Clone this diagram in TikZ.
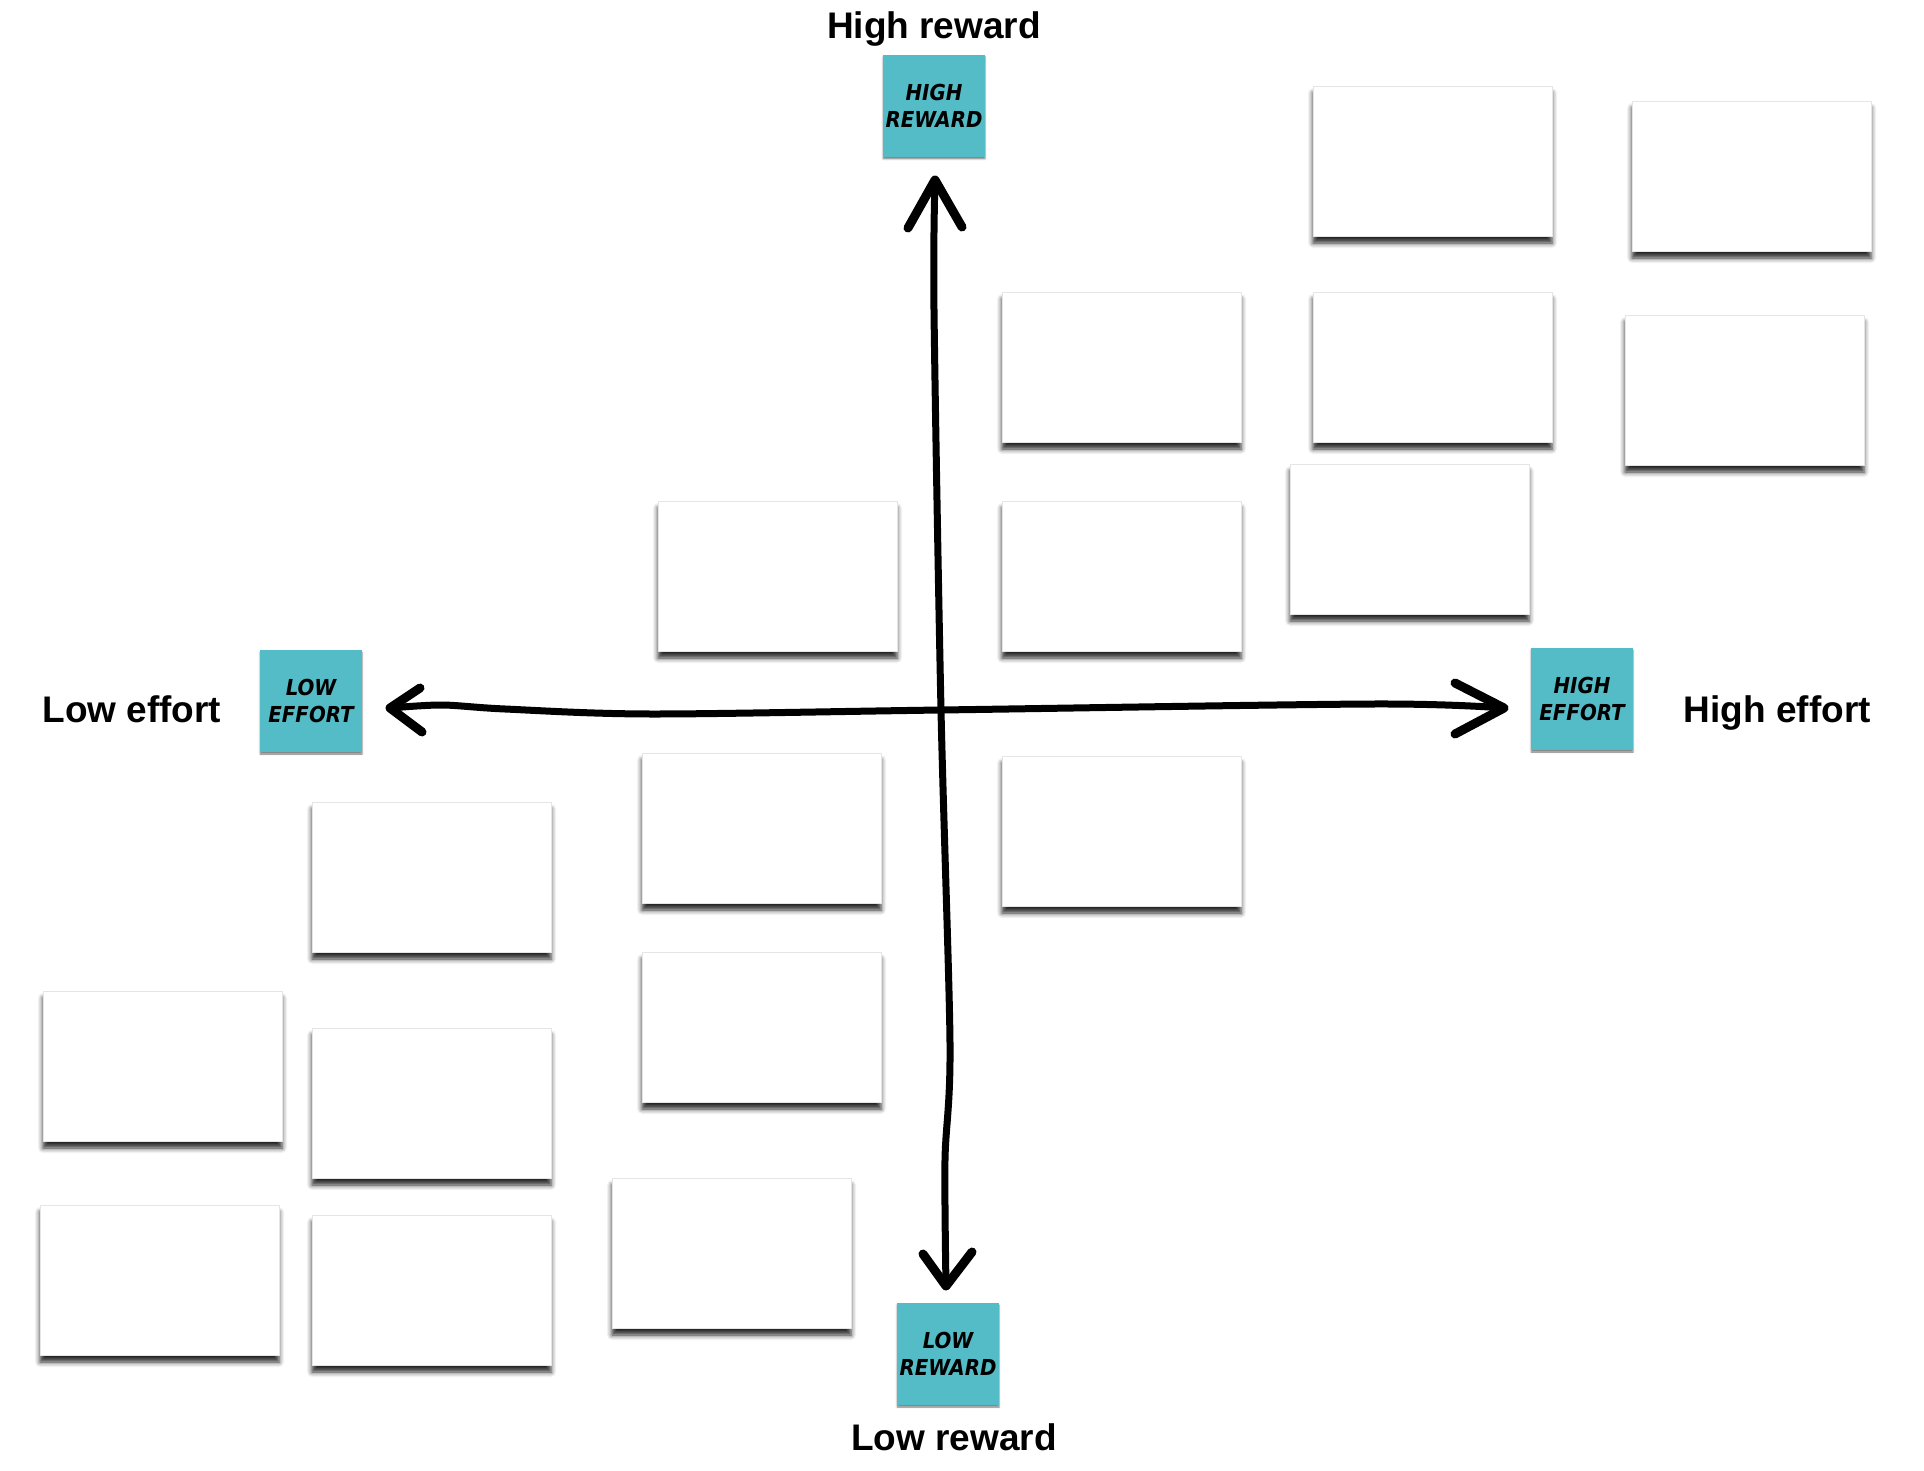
\documentclass[tikz,border=0pt]{standalone}
\usepackage{fontspec}
\setmainfont{Liberation Sans}
\newfontfamily\tagfont{DejaVu Sans Condensed}
\usetikzlibrary{positioning, shadows.blur}
\definecolor{tagcyan}{RGB}{84,188,199}

\begin{document}
\begin{tikzpicture}[x=0.5pt, y=-0.5pt,
    card/.style = {fill=white, draw=black!10, line width=0.4pt, minimum width=119.5pt, minimum height=75pt, inner sep=0pt,
        blur shadow={shadow xshift=0pt, shadow yshift=-3.5pt, shadow blur radius=2.5pt, shadow opacity=85}},
    tag/.style = {fill=tagcyan, minimum size=51pt, inner sep=0pt, align=center,
        font=\tagfont\bfseries\itshape\fontsize{11}{13.5}\selectfont,
        blur shadow={shadow xshift=0pt, shadow yshift=-1pt, shadow blur radius=0.8pt, shadow opacity=50}},
    lbl/.style = {inner sep=0pt, font=\bfseries\fontsize{18.5}{22}\selectfont},
    axis/.style = {line width=3.5pt, line cap=round, line join=round},
    barb/.style = {line width=4.5pt, line cap=round}]
            \useasboundingbox (0,0) rectangle (1924,1471);

            % blank sticky notes
            \node[card] (c1) at (1432.5,161) {};
            \node[card] (c2) at (1751.5,176) {};
            \node[card] (c3) at (1121.5,367) {};
            \node[card] (c4) at (1432.5,367) {};
            \node[card] (c5) at (1744.5,390) {};
            \node[card] (c6) at (1409.5,539) {};
            \node[card] (c7) at (777.5,576) {};
            \node[card] (c8) at (1121.5,576) {};
            \node[card] (c9) at (761.5,828) {};
            \node[card] (c10) at (1121.5,831) {};
            \node[card] (c11) at (431.5,877) {};
            \node[card] (c12) at (162.5,1066) {};
            \node[card] (c13) at (431.5,1103) {};
            \node[card] (c14) at (761.5,1027) {};
            \node[card] (c15) at (159.5,1280) {};
            \node[card] (c16) at (431.5,1290) {};
            \node[card] (c17) at (731.5,1253) {};

            % axis tags
            \node[tag] (hr) at (934,106) {HIGH\\REWARD};
            \node[tag] (le) at (311,701) {LOW\\EFFORT};
            \node[tag] (he) at (1582,699) {HIGH\\EFFORT};
            \node[tag] (lr) at (948,1354) {LOW\\REWARD};

            \node[lbl] (hrlabel) [above=8pt of hr.north, anchor=base] {High reward};
            \node[lbl] (lelabel) [left=19pt of le, yshift=-4pt] {Low effort};
            \node[lbl] (helabel) [right=25pt of he, yshift=-7pt] {High effort};
            \node[lbl] (lrlabel) [below=9pt of lr, xshift=3pt] {Low reward};

            % axes
            \coordinate (o) at (941,710);
            \coordinate (w) at (390,708);
            \coordinate (e) at (1504,708);
            \coordinate (n) at (935,180);
            \coordinate (s) at (946,1286);

            \draw[axis] plot[smooth, tension=0.5] coordinates {(w) (442,705) (505,709) (650,714) (o) (1374,704) (e)};
            \draw[axis] plot[smooth, tension=0.5] coordinates {(n) (934,310) (o) (950,1043) (945,1160) (s)};

            \draw[barb] (w) -- ++(30,-20) (w) -- ++(32,24);
            \draw[barb] (e) -- ++(-49,-25) (e) -- ++(-49,26);
            \draw[barb] (n) -- ++(-27,48) (n) -- ++(27,47);
            \draw[barb] (s) -- ++(-23,-32) (s) -- ++(26,-34);

        \end{tikzpicture}
\end{document}
